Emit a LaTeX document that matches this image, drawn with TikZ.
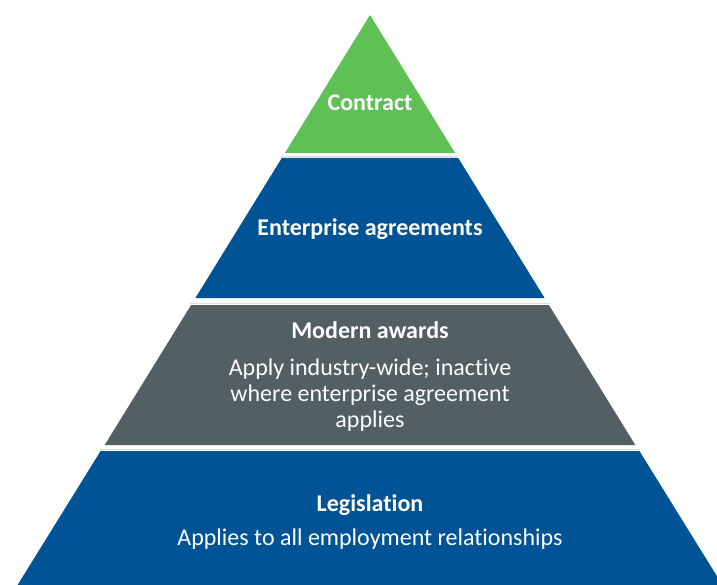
\documentclass[tikz,border=0pt]{standalone}
\usepackage{fontspec}
\setmainfont{Carlito}[Ligatures={NoCommon,NoContextual},RawFeature=-liga,RawFeature=-clig,RawFeature=-dlig]
\definecolor{tiergreen}{RGB}{94,192,85}
\definecolor{tierblue}{RGB}{0,83,148}
\definecolor{tiergrey}{RGB}{82,95,99}
\definecolor{tieredge}{RGB}{214,223,230}
\begin{document}
\begin{tikzpicture}[x=1pt,y=-1pt,
  tiertitle/.style={anchor=base,text=white,font=\fontsize{24}{26}\selectfont\bfseries,inner sep=0pt},
  tiertext/.style={anchor=base,text=white,font=\fontsize{24}{26}\selectfont,inner sep=0pt},
  tieredgeline/.style={draw=tieredge,line width=0.8pt}]
\useasboundingbox (0,0) rectangle (717,585);
\clip (0,0) rectangle (717,585);
% half width of the pyramid at height y: (y-15)*0.617, centred on x=370
% apex: contract
\fill[tiergreen] (370,15) -- (455.1,153) -- (284.9,153) -- cycle;
% enterprise agreements
\fill[tierblue] (281.8,158) -- (458.2,158) -- (544.6,298) -- (195.4,298) -- cycle;
\draw[tieredgeline] (281.2,156.6) -- (458.8,156.6);
% modern awards
\fill[tiergrey] (191.1,305) -- (548.9,305) -- (635.3,445) -- (104.7,445) -- cycle;
\draw[tieredgeline] (190.2,303.6) -- (549.8,303.6);
% legislation
\fill[tierblue] (100.6,451) -- (639.4,451) -- (731.7,600) -- (8.3,600) -- cycle;
\draw[tieredgeline] (99.7,449.6) -- (640.3,449.6);
% labels
\node[tiertitle] (contract) at (370,111) {Contract};
\node[tiertitle] (enterprise) at (370,236) {Enterprise agreements};
\node[tiertitle] (awards) at (370,338) {Modern awards};
\node[tiertext] (awardsa) at (370,375) {Apply industry-wide; inactive};
\node[tiertext] (awardsb) at (370,401) {where enterprise agreement};
\node[tiertext] (awardsc) at (370,427) {applies};
\node[tiertitle] (legislation) at (370,511) {Legislation};
\node[tiertext] (legislationa) at (370,545) {Applies to all employment relationships};
\end{tikzpicture}
\end{document}
